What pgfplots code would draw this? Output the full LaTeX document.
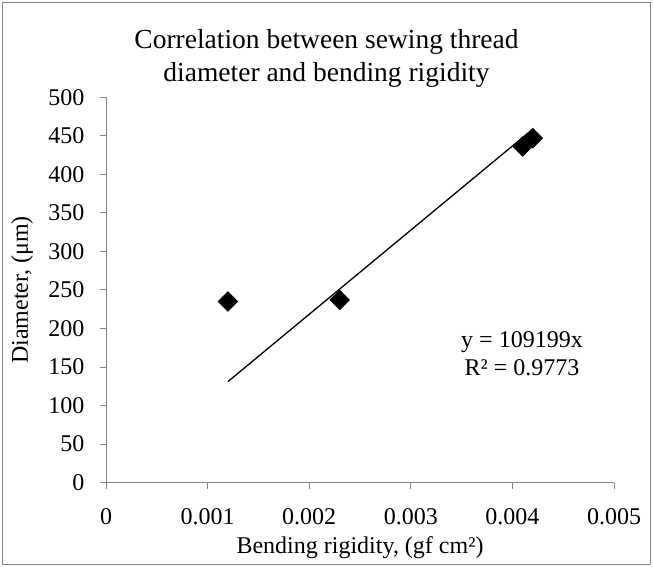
\documentclass[border=0pt]{standalone}
\usepackage{fontspec}
\setmainfont{Liberation Serif}
\usepackage{pgfplots}
\pgfplotsset{compat=1.18}
\definecolor{axgray}{HTML}{868686}
\begin{document}
\begin{tikzpicture}
\useasboundingbox (0,0) rectangle (653pt,567pt);
\draw[axgray, line width=1pt] (2.5pt,2.5pt) rectangle (650.5pt,564.5pt);
\node[align=center, font=\fontsize{27.5}{33}\selectfont] at (326.5pt,567pt-58.5pt) {Correlation between sewing thread\\diameter and bending rigidity};
\begin{axis}[
  at={(106pt,84.4pt)}, anchor=south west,
  scale only axis, width=508pt, height=385.3pt,
  xmin=0, xmax=0.005, ymin=0, ymax=500,
  axis line style={draw=none},
  xtick={0,0.001,0.002,0.003,0.004,0.005},
  xticklabels={0,0.001,0.002,0.003,0.004,0.005},
  scaled x ticks=false,
  ytick={0,50,...,500},
  xtick pos=left, ytick pos=left,
  tick align=outside, major tick length=6pt,
  tick style={draw=axgray, line width=1pt},
  /pgf/number format/assume math mode=true,
  tick label style={font=\fontsize{24}{28}\selectfont},
  xticklabel style={yshift=-16pt},
  yticklabel style={xshift=-12pt},
  xlabel={Bending rigidity, (gf cm²)},
  ylabel={Diameter, (μm)},
  every axis x label/.style={at={(axis description cs:0.5,0)}, anchor=center, yshift=-65pt, font=\fontsize{24}{28}\selectfont},
  every axis y label/.style={at={(axis description cs:0,0.5)}, anchor=center, rotate=90, yshift=84pt, font=\fontsize{24}{28}\selectfont},
  clip=false,
]
\draw[axgray, line width=1pt] (rel axis cs:0,1) -- (rel axis cs:0,0) -- (rel axis cs:1,0);
\pgfplotsinvokeforeach{0,0.001,0.002,0.003,0.004,0.005}{
  \draw[axgray, line width=1pt] (axis cs:#1,0) -- ++(0pt,-6pt);
}
\pgfplotsinvokeforeach{0,50,100,150,200,250,300,350,400,450,500}{
  \draw[axgray, line width=1pt] (axis cs:0,#1) -- ++(-6pt,0pt);
}
\addplot[black, line width=1.3pt, no marks] coordinates {(0.0012,131.04) (0.0042,458.64)};
\addplot[only marks, mark=square*, mark size=7pt, mark options={rotate=45, fill=black, draw=black}] coordinates {
(0.0012,235) (0.0023,237) (0.0041,436) (0.0042,447)
};
\end{axis}
\node[align=center, font=\fontsize{24}{28}\selectfont] at (522pt,567pt-354pt) {y = 109199x\\R² = 0.9773};
\end{tikzpicture}
\end{document}
